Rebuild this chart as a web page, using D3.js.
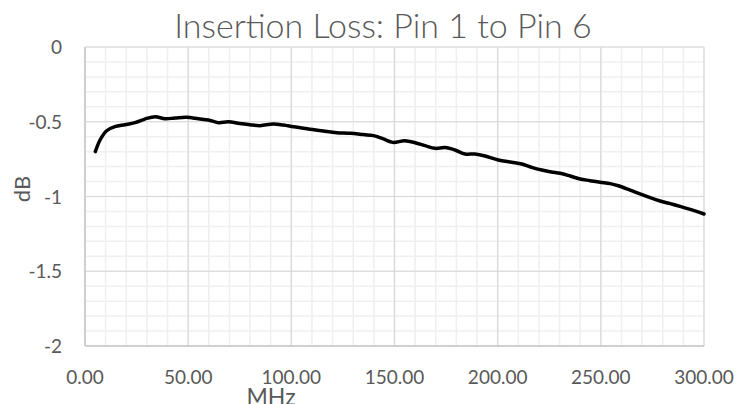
<!DOCTYPE html>
<html>
<head>
<meta charset="utf-8">
<script src="https://cdn.jsdelivr.net/npm/d3@7"></script>
<style>
  body { margin: 0; background: #fff; }
  text { font-family: Lato, "Open Sans", sans-serif; fill: #595959; }
</style>
</head>
<body>
<div id="chart"></div>
<script>
// Insertion loss, pin 1 -> pin 6
var w = 738, h = 404;

var freq = [5, 7.3, 10.5, 14.5, 19.4, 24.2, 29, 34, 38.8, 43.6, 49.3, 55, 59.8, 64.6, 69.5,
  75, 80, 84.8, 91.3, 96.1, 101, 109, 115.5, 122, 128.5, 135, 139.8, 144.6, 149.2, 155,
  160, 164.8, 169.7, 174.5, 179.3, 184.2, 189, 193.9, 200.3, 206.8, 211.7, 216.5, 221.4,
  226, 230.3, 235.1, 239.9, 244.8, 249.6, 254.5, 258.5, 264.2, 269, 273.9, 278.7, 283.6,
  288.4, 293.3, 300];
var loss = [-0.70, -0.622, -0.56, -0.533, -0.52, -0.506, -0.482, -0.466, -0.48, -0.475, -0.47,
  -0.48, -0.488, -0.506, -0.5, -0.512, -0.52, -0.526, -0.515, -0.522, -0.533, -0.55, -0.562,
  -0.573, -0.577, -0.586, -0.593, -0.615, -0.638, -0.627, -0.64, -0.66, -0.678, -0.673,
  -0.689, -0.716, -0.716, -0.729, -0.756, -0.771, -0.783, -0.805, -0.823, -0.836, -0.845,
  -0.863, -0.883, -0.894, -0.905, -0.914, -0.928, -0.957, -0.983, -1.008, -1.03, -1.048,
  -1.066, -1.086, -1.117];

var xTicks = [0, 50, 100, 150, 200, 250, 300];
var yTicks = [0, -0.5, -1, -1.5, -2];
var title = "Insertion Loss: Pin 1 to Pin 6";

var pL = 85, pR = 704, pT = 47, pB = 346;

var x = d3.scaleLinear().domain([0, 300]).range([pL, pR]);
var y = d3.scaleLinear().domain([-2, 0]).range([pB, pT]);

var svg = d3.select("#chart").append("svg")
  .attr("width", w).attr("height", h);

// minor grid
svg.append("g").selectAll("line").data(d3.range(0, 301, 10)).enter().append("line")
  .attr("x1", d => x(d)).attr("x2", d => x(d)).attr("y1", pT).attr("y2", pB)
  .attr("stroke", "#efefef").attr("stroke-width", 1.5);
svg.append("g").selectAll("line").data(d3.range(-20, 1).map(d => d / 10)).enter().append("line")
  .attr("y1", d => y(d)).attr("y2", d => y(d)).attr("x1", pL).attr("x2", pR)
  .attr("stroke", "#efefef").attr("stroke-width", 1.5);

// major grid
svg.append("g").selectAll("line").data(xTicks).enter().append("line")
  .attr("x1", d => x(d)).attr("x2", d => x(d)).attr("y1", pT).attr("y2", pB)
  .attr("stroke", "#d9d9d9").attr("stroke-width", 1.2);
svg.append("g").selectAll("line").data(yTicks).enter().append("line")
  .attr("y1", d => y(d)).attr("y2", d => y(d)).attr("x1", pL).attr("x2", pR)
  .attr("stroke", "#d9d9d9").attr("stroke-width", 1.2);

// axis lines
svg.append("line").attr("x1", pL).attr("x2", pR).attr("y1", pB).attr("y2", pB)
  .attr("stroke", "#c8c8c8").attr("stroke-width", 1.5);
svg.append("line").attr("x1", pL).attr("x2", pL).attr("y1", pT).attr("y2", pB)
  .attr("stroke", "#c8c8c8").attr("stroke-width", 1.5);

// tick labels
svg.append("g").selectAll("text").data(xTicks).enter().append("text")
  .attr("x", d => x(d)).attr("y", 384).attr("text-anchor", "middle")
  .style("font-size", "19px").text(d => d.toFixed(2));
svg.append("g").selectAll("text").data(yTicks).enter().append("text")
  .attr("x", 62).attr("y", d => y(d) + 7).attr("text-anchor", "end")
  .style("font-size", "19px").text(d => d);

// titles
svg.append("text").attr("x", 383).attr("y", 38).attr("text-anchor", "middle")
  .style("font-size", "34px").style("font-weight", 300).text(title);
svg.append("text").attr("transform", "translate(30,189) rotate(-90)")
  .attr("text-anchor", "middle").style("font-size", "22px").text("dB");
svg.append("text").attr("x", 271).attr("y", 405).attr("text-anchor", "middle")
  .style("font-size", "23px").text("MHz");

// line
var pts = freq.map((f, i) => [f, loss[i]]);
svg.append("path").datum(pts)
  .attr("fill", "none").attr("stroke", "#000").attr("stroke-width", 3.5)
  .attr("stroke-linejoin", "round").attr("stroke-linecap", "round")
  .attr("d", d3.line().x(d => x(d[0])).y(d => y(d[1])).curve(d3.curveCatmullRom));
</script>
</body>
</html>
